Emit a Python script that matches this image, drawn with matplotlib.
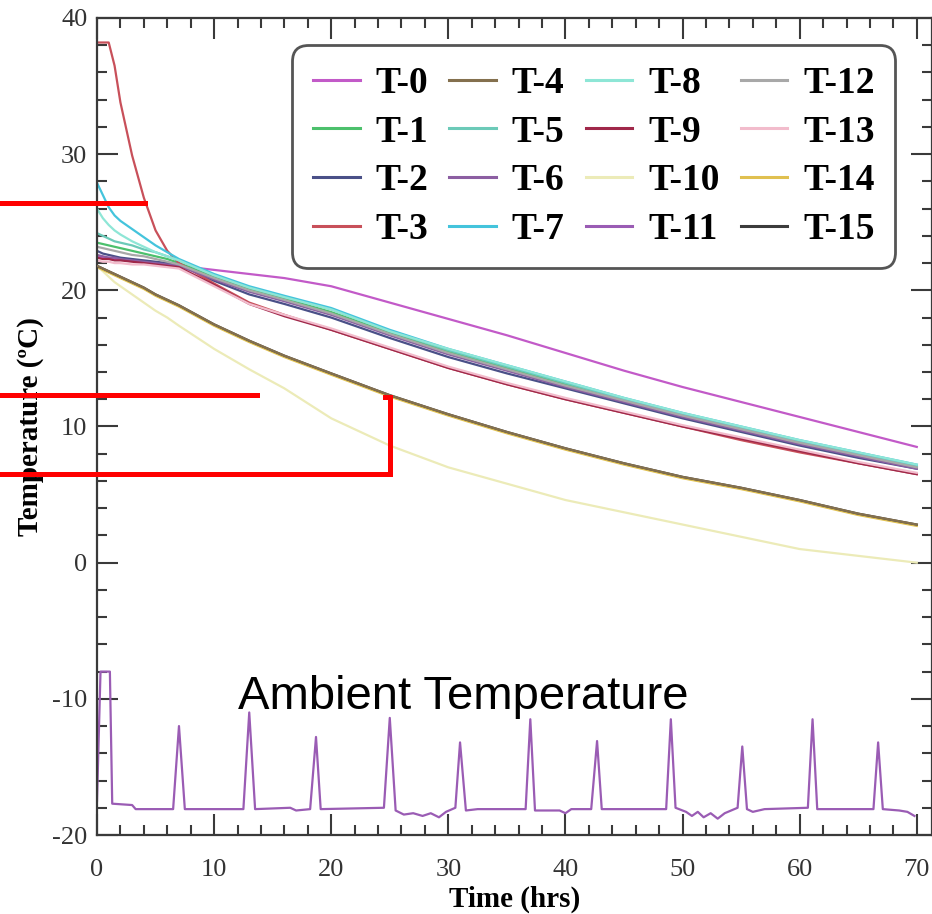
import matplotlib
matplotlib.use("Agg")
import matplotlib.pyplot as plt
from matplotlib.ticker import MultipleLocator
from matplotlib.lines import Line2D

plt.rcParams['font.family'] = ['Liberation Serif', 'DejaVu Serif']
plt.rcParams['axes.unicode_minus'] = False

# Sample times (hrs) shared by the probe curves T-0 .. T-15 (except T-11)
time_hrs = [0, 0.5, 1, 1.5, 2, 3, 4, 5, 6, 7, 10, 13, 16, 20, 25, 30, 35, 40, 45, 50, 55, 60, 65, 70]

# Probe temperatures (ºC)
t0 = [22.5, 22.4, 22.4, 22.3, 22.3, 22.2, 22.1, 22.0, 21.9, 21.8, 21.5, 21.2, 20.9, 20.3, 19.1, 17.9, 16.7, 15.4, 14.1, 12.9, 11.8, 10.7, 9.6, 8.5]
t1 = [23.5, 23.4, 23.3, 23.2, 23.1, 22.9, 22.7, 22.5, 22.3, 22.0, 21.0, 20.1, 19.4, 18.4, 16.9, 15.5, 14.3, 13.1, 11.9, 10.8, 9.8, 8.8, 7.9, 7.0]
t2 = [22.9, 22.7, 22.6, 22.5, 22.4, 22.3, 22.2, 22.1, 22.0, 21.9, 20.7, 19.7, 19.0, 18.0, 16.5, 15.1, 13.9, 12.8, 11.7, 10.6, 9.6, 8.6, 7.7, 6.9]
t3 = [38.2, 38.2, 38.2, 36.5, 33.8, 29.9, 26.8, 24.4, 22.9, 22.0, 20.5, 19.1, 18.2, 17.1, 15.7, 14.3, 13.1, 12.0, 11.0, 10.0, 9.0, 8.1, 7.3, 6.5]
t4 = [21.8, 21.6, 21.4, 21.2, 21.0, 20.6, 20.2, 19.7, 19.3, 18.9, 17.5, 16.3, 15.2, 13.9, 12.3, 10.9, 9.6, 8.4, 7.3, 6.3, 5.5, 4.6, 3.6, 2.8]
t5 = [24.2, 24.0, 23.8, 23.6, 23.5, 23.3, 23.0, 22.8, 22.5, 22.2, 21.1, 20.2, 19.5, 18.6, 17.0, 15.6, 14.4, 13.2, 12.0, 10.9, 9.9, 8.9, 8.0, 7.1]
t6 = [22.6, 22.5, 22.4, 22.4, 22.3, 22.2, 22.1, 22.0, 21.9, 21.8, 20.8, 19.9, 19.2, 18.2, 16.7, 15.3, 14.1, 12.9, 11.8, 10.7, 9.7, 8.7, 7.8, 6.9]
t7 = [27.9, 27.0, 26.1, 25.5, 25.1, 24.5, 23.9, 23.3, 22.8, 22.3, 21.2, 20.3, 19.6, 18.7, 17.1, 15.7, 14.5, 13.3, 12.1, 11.0, 10.0, 9.0, 8.1, 7.2]
t8 = [26.0, 25.3, 24.8, 24.4, 24.1, 23.6, 23.2, 22.8, 22.5, 22.2, 21.1, 20.2, 19.5, 18.6, 17.0, 15.7, 14.5, 13.3, 12.1, 11.0, 10.0, 9.0, 8.1, 7.2]
t9 = [22.4, 22.3, 22.3, 22.2, 22.2, 22.1, 22.0, 21.9, 21.8, 21.7, 20.4, 19.0, 18.1, 17.1, 15.7, 14.3, 13.1, 12.0, 11.0, 10.0, 9.1, 8.2, 7.3, 6.5]
t10 = [21.8, 21.4, 21.0, 20.6, 20.3, 19.7, 19.1, 18.5, 18.0, 17.4, 15.7, 14.2, 12.8, 10.6, 8.6, 7.0, 5.8, 4.6, 3.7, 2.8, 1.9, 1.0, 0.5, 0.0]
t12 = [23.2, 23.1, 23.0, 22.9, 22.8, 22.6, 22.5, 22.3, 22.1, 21.9, 20.9, 20.0, 19.3, 18.3, 16.8, 15.4, 14.2, 13.0, 11.9, 10.8, 9.8, 8.8, 7.9, 7.0]
t13 = [22.2, 22.1, 22.1, 22.0, 22.0, 21.9, 21.9, 21.8, 21.7, 21.6, 20.3, 19.0, 18.2, 17.2, 15.8, 14.4, 13.2, 12.1, 11.1, 10.1, 9.2, 8.3, 7.4, 6.6]
t14 = [21.7, 21.5, 21.3, 21.1, 20.9, 20.5, 20.1, 19.6, 19.2, 18.8, 17.4, 16.2, 15.1, 13.8, 12.2, 10.8, 9.5, 8.3, 7.2, 6.2, 5.4, 4.5, 3.5, 2.7]
t15 = [21.8, 21.6, 21.4, 21.2, 21.0, 20.6, 20.2, 19.7, 19.3, 18.9, 17.5, 16.3, 15.2, 13.9, 12.3, 10.9, 9.6, 8.4, 7.3, 6.3, 5.5, 4.6, 3.6, 2.8]

# T-11 is the ambient (freezer) temperature with its defrost spikes
amb_time = [0, 0.3, 1.1, 1.3, 3.0, 3.3,
            6.5, 7.0, 7.5, 12.5, 13.0, 13.5, 16.5, 17.0, 18.2, 18.7, 19.1,
            24.5, 25.0, 25.5, 26.2, 27.0, 27.8, 28.5, 29.2, 29.8,
            30.6, 31.0, 31.5, 32.5, 36.6, 37.0, 37.4, 39.5, 40.0, 40.5,
            42.2, 42.7, 43.1, 48.6, 49.0, 49.4, 50.3, 50.8, 51.3, 51.8, 52.4, 53.0, 53.6,
            54.7, 55.1, 55.5, 56.0, 57.0, 60.7, 61.1, 61.5, 66.3, 66.7, 67.1, 68.5, 69.2, 69.8]
amb_temp = [-17.5, -8.0, -8.0, -17.7, -17.8, -18.1,
            -18.1, -12.0, -18.1, -18.1, -11.0, -18.1, -18.0, -18.2, -18.1, -12.8, -18.1,
            -18.0, -11.4, -18.2, -18.5, -18.4, -18.6, -18.4, -18.7, -18.3,
            -18.0, -13.2, -18.2, -18.1, -18.1, -11.5, -18.2, -18.2, -18.4, -18.1,
            -18.1, -13.1, -18.1, -18.1, -11.5, -18.0, -18.3, -18.6, -18.3, -18.7, -18.4, -18.8, -18.4,
            -18.0, -13.5, -18.1, -18.3, -18.1, -18.0, -11.5, -18.1, -18.1, -13.2, -18.1, -18.2, -18.3, -18.6]

labels = ["T-%d" % i for i in range(16)]
colors = ['#c25ac8', '#4cc06c', '#4a5088', '#c8505a', '#84704e', '#6ccab8',
          '#8c5ea2', '#44c4dc', '#8ee6d6', '#a0284a', '#ecebb8', '#9a5cb4',
          '#a8a8a8', '#f2bccc', '#e0c050', '#3c3c3c']

series = [(time_hrs, t0), (time_hrs, t1), (time_hrs, t2), (time_hrs, t3),
          (time_hrs, t4), (time_hrs, t5), (time_hrs, t6), (time_hrs, t7),
          (time_hrs, t8), (time_hrs, t9), (time_hrs, t10), (amb_time, amb_temp),
          (time_hrs, t12), (time_hrs, t13), (time_hrs, t14), (time_hrs, t15)]

W, H = 932, 914
fig = plt.figure(figsize=(W / 100, H / 100), dpi=100)
ax = fig.add_axes([97 / W, 1 - 835 / H, (932 - 97) / W, (835 - 18) / H])

for (x, y), lab, c in zip(series, labels, colors):
    # brown probe sits on top of its near-identical neighbours
    z = 3 if lab == "T-4" else 2
    ax.plot(x, y, color=c, lw=1.6, label=lab, zorder=z)

ax.set_xlim(0, 71.3)
ax.set_ylim(-20, 40)
ax.xaxis.set_major_locator(MultipleLocator(10))
ax.xaxis.set_minor_locator(MultipleLocator(2))
ax.yaxis.set_major_locator(MultipleLocator(10))
ax.yaxis.set_minor_locator(MultipleLocator(2))
ax.tick_params(which='both', direction='in', top=True, right=True,
               color='#3a3a3a', width=1.5, labelsize=19, labelcolor='#333333')
ax.tick_params(which='major', length=15)
ax.tick_params(which='minor', length=7.5)
ax.tick_params(axis='x', pad=17)
ax.tick_params(axis='y', pad=7)
for s in ax.spines.values():
    s.set_color('#3a3a3a')
    s.set_linewidth(1.6)

ax.set_xlabel("Time (hrs)", fontsize=21, fontweight='bold', labelpad=4)
ax.set_ylabel("Temperature (ºC)", fontsize=21, fontweight='bold', labelpad=6)

leg = ax.legend(ncol=4, loc='upper left', bbox_to_anchor=(292 / W, 1 - 45 / H),
                bbox_transform=fig.transFigure, borderaxespad=0,
                prop={'weight': 'bold', 'size': 27}, handlelength=1.25,
                handletextpad=0.42, columnspacing=0.56, labelspacing=0.37,
                borderpad=0.55, framealpha=1)
leg.get_frame().set_edgecolor('#555555')
leg.get_frame().set_linewidth(2)
leg.get_frame().set_boxstyle('round,pad=0,rounding_size=0.42')
for h in leg.get_lines():
    h.set_linewidth(2.2)

fig.text(238 / W, 1 - 709 / H, "Ambient Temperature", fontsize=34,
         family='Liberation Sans', va='baseline', color='black')

# red marker lines drawn over the figure (pixel positions)
red_marks = [([0, 145], [203, 203]),
             ([0, 257], [395, 395]),
             ([0, 390, 390, 385], [474, 474, 397, 397])]
for xs, ys in red_marks:
    fig.add_artist(Line2D([v / W for v in xs], [1 - v / H for v in ys],
                          transform=fig.transFigure, color='#ff0000', lw=3.6,
                          solid_joinstyle='miter'))

fig.savefig("out.png", dpi=100)
plt.close(fig)
